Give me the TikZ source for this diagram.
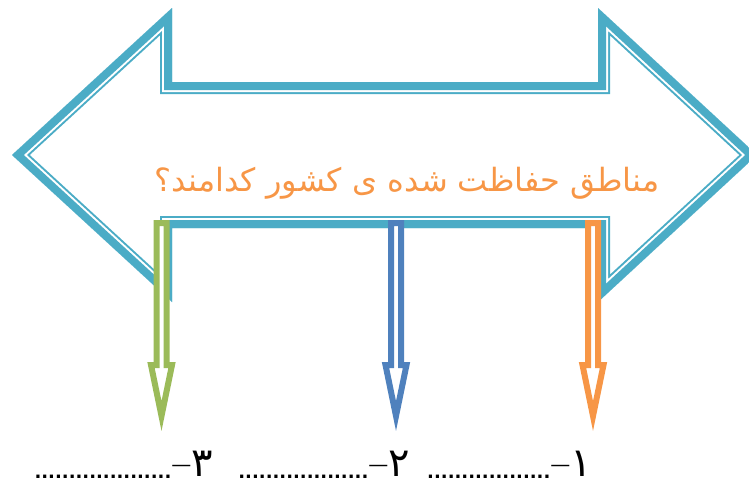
\documentclass[tikz,border=0pt]{standalone}
\usepackage{fontspec}
\newfontfamily\arabicfont[Script=Arabic]{DejaVu Sans}
\TeXXeTstate=1
\definecolor{frameteal}{HTML}{4BACC6}
\definecolor{askorange}{HTML}{F79646}
\definecolor{midblue}{HTML}{4F81BD}
\definecolor{leafgreen}{HTML}{9BBB59}
\newcommand{\digitsize}{\fontsize{40}{40}\selectfont}
\newcommand{\dashsize}{\fontsize{20}{20}\selectfont}
\newcommand{\dotsize}{\fontsize{18}{18}\selectfont\bfseries}

\begin{document}
\begin{tikzpicture}
[x = 1pt, y = -1pt,
outline/.style = {draw = #1, fill = white, line width = 6pt, line join = miter},
question/.style = {text = askorange, font = \arabicfont\fontsize{32}{36}\selectfont},
answer/.style = {anchor = base east, inner sep = 0pt, font = \arabicfont}]

\path[use as bounding box, clip] (0, 0) rectangle (749, 485);

% the big double arrow, thick line outside, thin line inside
\path[save path = \bigarrow] (12, 155) -- (172, 8) -- (172, 82) -- (598, 82) -- (598, 8) -- (757, 155)
  -- (598, 302) -- (598, 228) -- (172, 228) -- (172, 302) -- cycle;
\begin{scope}
\clip[use path = \bigarrow];
\draw[use path = \bigarrow, frameteal, line width = 24pt];
\draw[use path = \bigarrow, white, line width = 20pt];
\draw[use path = \bigarrow, frameteal, line width = 16pt];
\end{scope}

\node[question] (question) at (407, 183) {\beginR مناطق حفاظت شده ی کشور کدامند؟\endR};

\foreach \xc/\col in {161.5/leafgreen, 396/midblue, 593/askorange}
  \draw[outline = \col] (\xc - 5, 223) -- ++(10, 0) -- ++(0, 142) -- ++(5.5, 0) -- (\xc, 416)
    -- (\xc - 10.5, 365) -- ++(5.5, 0) -- cycle;

\node[answer] (answer 1) at (592, 478) {\beginR\raisebox{2pt}{\digitsize ۱}\raisebox{7pt}{\dashsize —}{\dotsize ..................}\endR};
\node[answer] (answer 2) at (410, 478) {\beginR\raisebox{2pt}{\digitsize ۲}\raisebox{7pt}{\dashsize —}{\dotsize ...................}\endR};
\node[answer] (answer 3) at (213, 478) {\beginR\raisebox{2pt}{\digitsize ۳}\raisebox{7pt}{\dashsize —}{\dotsize ....................}\endR};
\end{tikzpicture}
\end{document}
